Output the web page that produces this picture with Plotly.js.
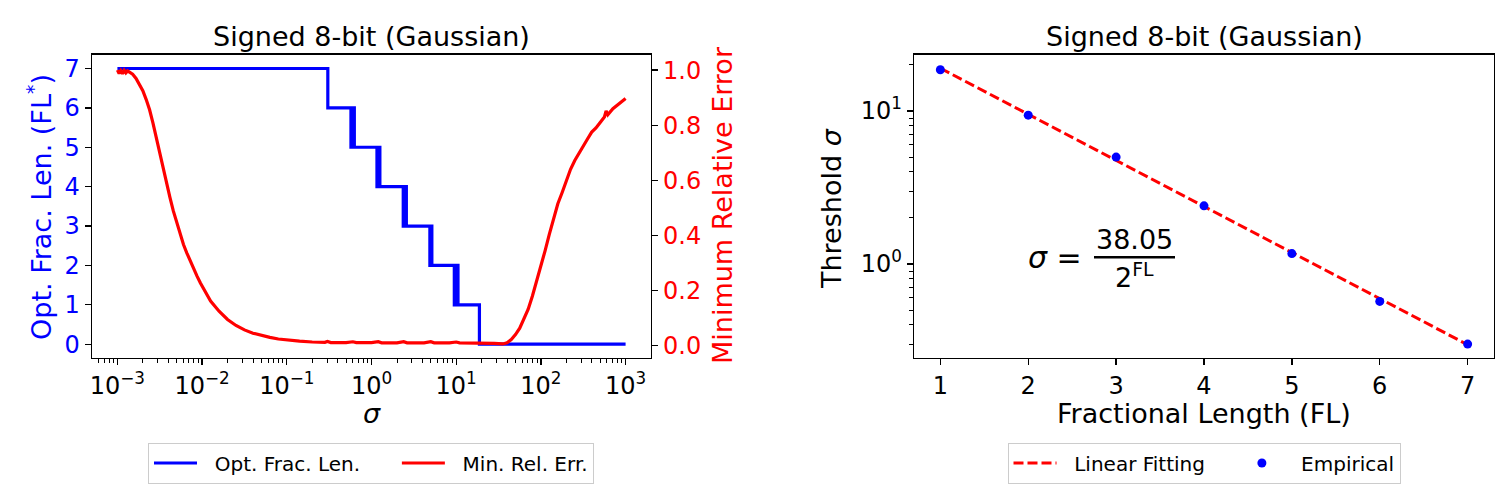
<!DOCTYPE html>
<html>
<head>
<meta charset="utf-8">
<script src="https://cdn.plot.ly/plotly-3.0.1.min.js"></script>
<style>
  html, body { margin: 0; padding: 0; background: #fff; }
  #chart { width: 1511px; height: 490px; }
</style>
</head>
<body>
<div id="chart"></div>
<script>
// left panel: optimal fractional length (step) and min relative error vs sigma
const blueSigma = [0.001, 0.305, 0.572, 0.600, 0.627, 1.16, 1.205, 1.256, 2.37, 2.47, 2.58,
                   4.89, 5.02, 5.16, 9.5, 10.0, 10.5, 18.8, 1000];
const blueFL = [7, 6, 5, 6, 5, 4, 5, 4, 3, 4, 3, 2, 3, 2, 1, 2, 1, 0, 0];

const redLogSigma = [-3.00, -2.98, -2.96, -2.94, -2.92, -2.90, -2.88, -2.85, -2.82, -2.78, -2.74,
    -2.70, -2.66, -2.62, -2.58, -2.54, -2.50, -2.46, -2.42, -2.38, -2.34, -2.30, -2.26,
    -2.22, -2.18, -2.14, -2.10, -2.06, -2.02, -1.96, -1.90, -1.80, -1.70, -1.60, -1.50,
    -1.40, -1.30, -1.20, -1.10, -1.00, -0.85, -0.70, -0.55, -0.52, -0.48, -0.30, -0.22,
    -0.18, 0.00, 0.08, 0.12, 0.30, 0.38, 0.42, 0.62, 0.70, 0.74, 0.92, 1.00, 1.04, 1.25,
    1.45, 1.55, 1.60, 1.65, 1.70, 1.75, 1.80, 1.85, 1.90, 1.95, 2.00, 2.05, 2.10, 2.15,
    2.20, 2.25, 2.30, 2.35, 2.40, 2.45, 2.50, 2.55, 2.60, 2.65, 2.70, 2.75, 2.77, 2.79,
    2.85, 2.90, 2.95, 3.00];
const redErr = [1.000, 0.988, 0.998, 0.987, 0.999, 0.990, 0.997, 0.992, 0.985, 0.970, 0.950,
    0.925, 0.893, 0.856, 0.808, 0.752, 0.698, 0.643, 0.589, 0.538, 0.489, 0.445, 0.404,
    0.367, 0.336, 0.306, 0.279, 0.252, 0.227, 0.195, 0.162, 0.125, 0.095, 0.073, 0.057,
    0.045, 0.036, 0.030, 0.024, 0.020, 0.016, 0.013, 0.012, 0.015, 0.011, 0.011, 0.014,
    0.011, 0.011, 0.014, 0.010, 0.010, 0.014, 0.010, 0.010, 0.014, 0.010, 0.010, 0.013,
    0.010, 0.010, 0.008, 0.006, 0.010, 0.022, 0.040, 0.063, 0.095, 0.132, 0.180, 0.232,
    0.285, 0.345, 0.405, 0.462, 0.515, 0.555, 0.598, 0.640, 0.672, 0.700, 0.728, 0.750,
    0.775, 0.790, 0.810, 0.830, 0.852, 0.838, 0.860, 0.872, 0.884, 0.897];

// right panel: threshold sigma vs fractional length
const fracLen = [1, 2, 3, 4, 5, 6, 7];
const fitSigma = [19.03, 9.51, 4.76, 2.38, 1.19, 0.595, 0.297];
const empSigma = [18.6, 9.4, 5.0, 2.4, 1.17, 0.57, 0.30];

const logTicks = [1e-3, 1e-2, 1e-1, 1, 10, 100, 1000];
const logTickText = ['10<sup>−3</sup>', '10<sup>−2</sup>', '10<sup>−1</sup>', '10<sup>0</sup>',
                     '10<sup>1</sup>', '10<sup>2</sup>', '10<sup>3</sup>'];
const errTicks = [0, 0.2, 0.4, 0.6, 0.8, 1.0];
const errTickText = ['0.0', '0.2', '0.4', '0.6', '0.8', '1.0'];

const minorLeft = [];
for (let e = -4; e <= 3; e++) {
    for (let m = 2; m <= 9; m++) minorLeft.push(m * Math.pow(10, e));
}
const minorRight = [];
for (let e = -1; e <= 1; e++) {
    for (let m = 2; m <= 9; m++) minorRight.push(m * Math.pow(10, e));
}

const W = 1511, H = 490;
const px = (x) => x / W;
const py = (y) => 1 - y / H;

const FONT = 'DejaVu Sans';
const sp = (n) => '\u00a0'.repeat(n);

const traces = [
    {
        x: blueSigma, y: blueFL, xaxis: 'x', yaxis: 'y',
        type: 'scatter', mode: 'lines', line: {shape: 'hv', color: '#0000ff', width: 3.2},
        name: sp(2) + 'Opt. Frac. Len.' + sp(5), legend: 'legend'
    },
    {
        x: redLogSigma.map(v => Math.pow(10, v)), y: redErr, xaxis: 'x', yaxis: 'y2',
        type: 'scatter', mode: 'lines', line: {color: '#ff0000', width: 3.2},
        name: sp(2) + 'Min. Rel. Err.', legend: 'legend'
    },
    {
        x: fracLen, y: fitSigma, xaxis: 'x3', yaxis: 'y3',
        type: 'scatter', mode: 'lines', line: {color: '#ff0000', width: 3, dash: '10px,4px'},
        name: sp(2) + 'Linear Fitting' + sp(4), legend: 'legend2'
    },
    {
        x: fracLen, y: empSigma, xaxis: 'x3', yaxis: 'y3',
        type: 'scatter', mode: 'markers', marker: {color: '#0000ff', size: 9},
        name: sp(2) + 'Empirical', legend: 'legend2'
    }
];

const axBase = {
    showline: true, linecolor: '#000', linewidth: 1.3,
    ticks: 'outside', ticklen: 6, tickwidth: 1.3, tickcolor: '#000',
    showgrid: false, zeroline: false,
    tickfont: {family: FONT, size: 24, color: '#000'}
};

const leftDom = [px(92), px(651)];
const rightDom = [px(914), px(1494)];
const yDom = [py(358), py(54.7)];

const legendBase = {
    orientation: 'h', xanchor: 'center', y: py(463), yanchor: 'middle',
    bordercolor: '#cccccc', borderwidth: 1, bgcolor: '#fff', itemwidth: 43,
    font: {family: FONT, size: 20, color: '#000'}
};

const layout = {
    width: W, height: H,
    margin: {l: 0, r: 0, t: 0, b: 0},
    paper_bgcolor: '#fff', plot_bgcolor: '#fff',
    font: {family: FONT, color: '#000'},
    xaxis: {
        ...axBase, domain: leftDom, anchor: 'y', type: 'log', range: [-3.3, 3.3], mirror: true,
        tickmode: 'array', tickvals: logTicks, ticktext: logTickText,
        minor: {ticks: 'outside', ticklen: 3.5, tickwidth: 1, tickcolor: '#000',
                tickmode: 'array', tickvals: minorLeft, showgrid: false}
    },
    yaxis: {
        ...axBase, domain: yDom, anchor: 'x', range: [-0.35, 7.35],
        tickmode: 'array', tickvals: [0, 1, 2, 3, 4, 5, 6, 7],
        tickfont: {family: FONT, size: 24, color: '#0000ff'}
    },
    yaxis2: {
        ...axBase, overlaying: 'y', anchor: 'x', side: 'right', range: [-0.045, 1.056],
        tickmode: 'array', tickvals: errTicks, ticktext: errTickText,
        tickfont: {family: FONT, size: 24, color: '#ff0000'}
    },
    xaxis3: {
        ...axBase, domain: rightDom, anchor: 'y3', range: [0.7, 7.3], mirror: true,
        tickmode: 'array', tickvals: fracLen
    },
    yaxis3: {
        ...axBase, domain: yDom, anchor: 'x3', type: 'log', range: [-0.614, 1.368], mirror: true,
        tickmode: 'array', tickvals: [1, 10], ticktext: ['10<sup>0</sup>', '10<sup>1</sup>'],
        minor: {ticks: 'outside', ticklen: 3.5, tickwidth: 1, tickcolor: '#000',
                tickmode: 'array', tickvals: minorRight, showgrid: false}
    },
    legend: {...legendBase, x: px(371)},
    legend2: {...legendBase, x: px(1204)},
    shapes: [
        {type: 'line', xref: 'paper', yref: 'paper',
         x0: px(1094), x1: px(1175), y0: py(257.3), y1: py(257.3),
         line: {color: '#000', width: 2.5}}
    ],
    annotations: [
        {text: 'Signed 8-bit (Gaussian)', x: px(371.5), y: py(36), xref: 'paper', yref: 'paper',
         showarrow: false, xanchor: 'center', yanchor: 'middle', font: {family: FONT, size: 27}},
        {text: 'Signed 8-bit (Gaussian)', x: px(1204), y: py(36), xref: 'paper', yref: 'paper',
         showarrow: false, xanchor: 'center', yanchor: 'middle', font: {family: FONT, size: 27}},
        {text: 'Opt. Frac. Len. (FL<sup>*</sup>)', x: px(40), y: py(207), xref: 'paper', yref: 'paper',
         showarrow: false, textangle: -90, xanchor: 'center', yanchor: 'middle',
         font: {family: FONT, size: 27, color: '#0000ff'}},
        {text: 'Minimum Relative Error', x: px(722), y: py(205), xref: 'paper', yref: 'paper',
         showarrow: false, textangle: -90, xanchor: 'center', yanchor: 'middle',
         font: {family: FONT, size: 27, color: '#ff0000'}},
        {text: '<i>σ</i>', x: px(371.5), y: py(413), xref: 'paper', yref: 'paper',
         showarrow: false, xanchor: 'center', yanchor: 'middle', font: {family: FONT, size: 27}},
        {text: 'Fractional Length (FL)', x: px(1204), y: py(413), xref: 'paper', yref: 'paper',
         showarrow: false, xanchor: 'center', yanchor: 'middle', font: {family: FONT, size: 27}},
        {text: 'Threshold <i>σ</i>', x: px(831), y: py(208), xref: 'paper', yref: 'paper',
         showarrow: false, textangle: -90, xanchor: 'center', yanchor: 'middle',
         font: {family: FONT, size: 27}},
        {text: '<i>σ</i> =', x: px(1084), y: py(257), xref: 'paper', yref: 'paper',
         showarrow: false, xanchor: 'right', yanchor: 'middle', font: {family: FONT, size: 30}},
        {text: '38.05', x: px(1134), y: py(239), xref: 'paper', yref: 'paper',
         showarrow: false, xanchor: 'center', yanchor: 'middle', font: {family: FONT, size: 27}},
        {text: '2<sup>FL</sup>', x: px(1134), y: py(275), xref: 'paper', yref: 'paper',
         showarrow: false, xanchor: 'center', yanchor: 'middle', font: {family: FONT, size: 27}}
    ]
};

Plotly.newPlot('chart', traces, layout, {displayModeBar: false, staticPlot: true});
</script>
</body>
</html>
